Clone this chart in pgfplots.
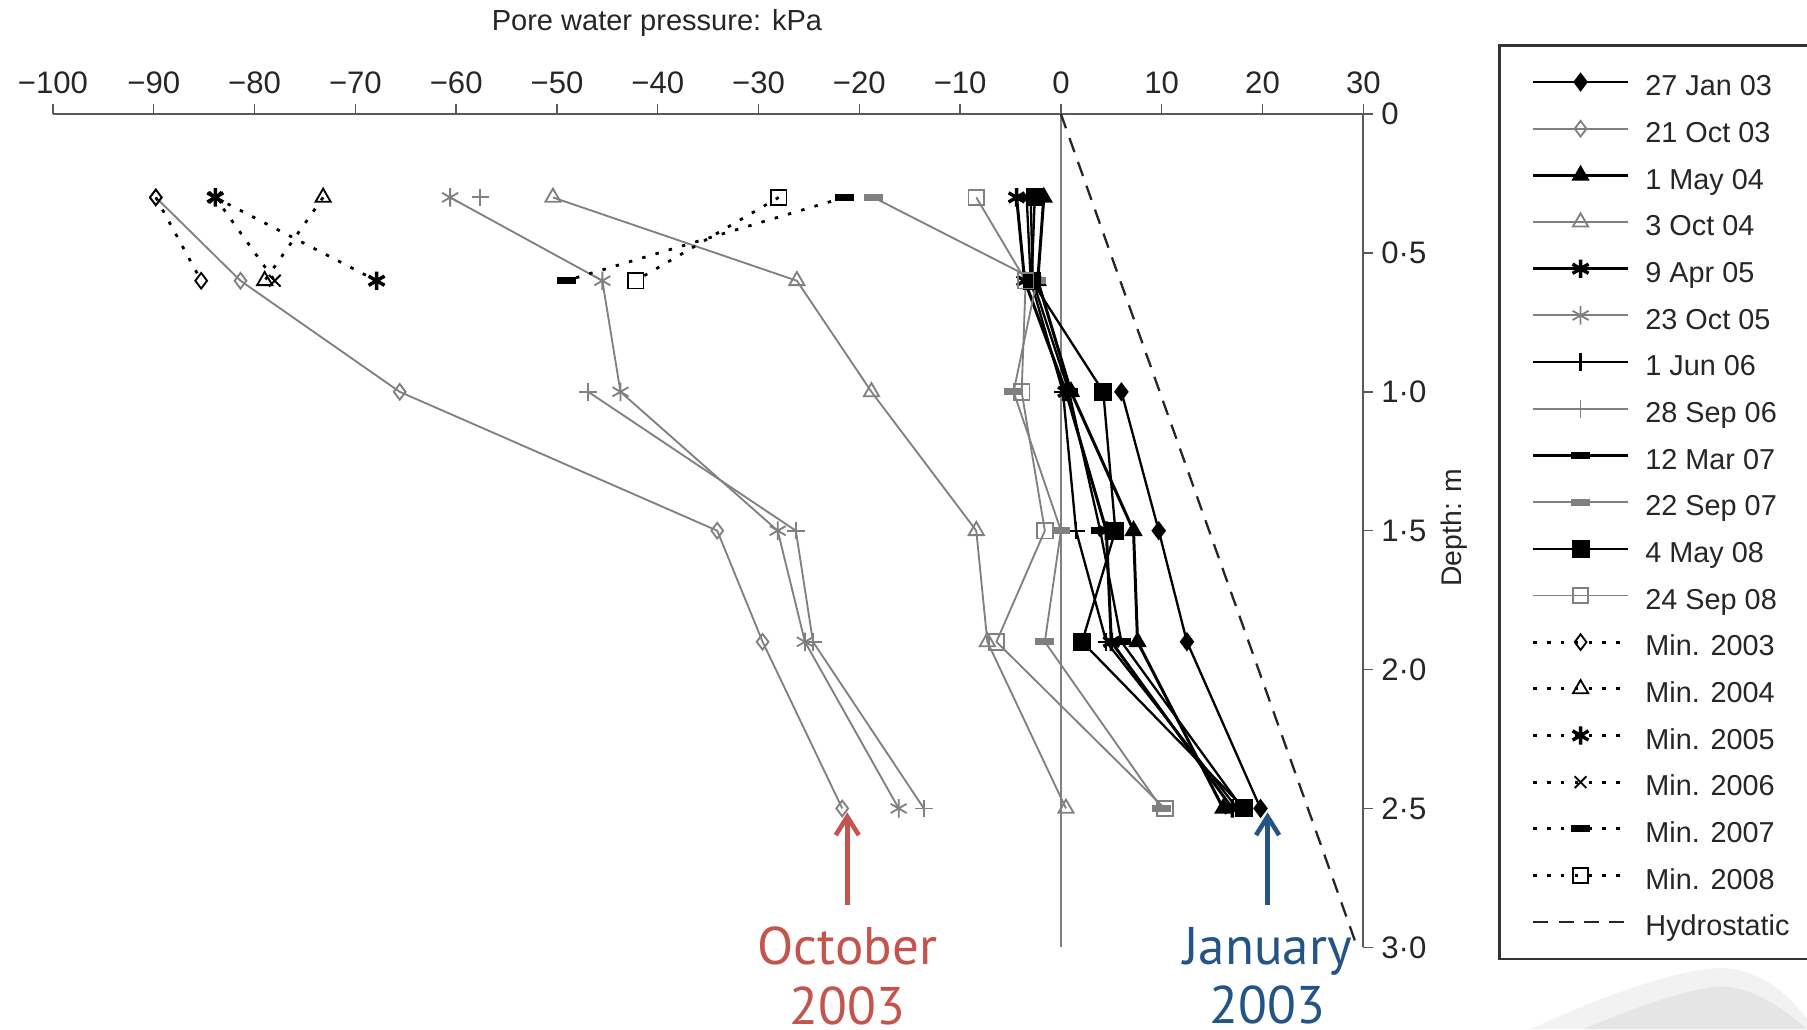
\documentclass[border=0pt]{standalone}
\usepackage{pgfplots}
\pgfplotsset{compat=1.18}
\usepackage{fontspec}
\setmainfont{Liberation Sans}
\newfontfamily\annofont{PT Sans}
\usetikzlibrary{arrows.meta}
\definecolor{grayline}{RGB}{128,128,128}
\definecolor{octred}{RGB}{196,84,78}
\definecolor{janblue}{RGB}{36,84,133}
\pgfplotsset{
  blk/.style={black, solid, line width=1pt, mark size=3.4pt, mark options={solid}},
  gry/.style={grayline, solid, line width=0.8pt, mark size=3.4pt, mark options={solid}},
  mn/.style={black, line width=1.2pt, dash pattern=on 1.5pt off 4.5pt, mark size=3.4pt, mark options={solid, line width=0.8pt}},
}
\begin{document}
\begin{tikzpicture}
% faint background swoosh
\fill[black!5] (664pt,-446.5pt) .. controls (700pt,-430pt) and (730pt,-420pt) .. (748pt,-420pt) .. controls (765pt,-421pt) and (776pt,-432pt) .. (784pt,-442pt) -- (784pt,-446.5pt) -- cycle;
\fill[black!10] (687pt,-446.5pt) .. controls (712pt,-436pt) and (735pt,-428pt) .. (748pt,-428pt) .. controls (762pt,-429pt) and (774pt,-438pt) .. (784pt,-446.5pt) -- cycle;
\begin{axis}[
  at={(23pt,-49.5pt)}, anchor=north west,
  scale only axis, width=568.5pt, height=361.5pt,
  xmin=-100, xmax=30, ymin=0, ymax=3,
  y dir=reverse,
  axis x line=top, axis y line=right,
  axis line style={-, gray!70!black, line width=0.8pt},
  xtick={-100,-90,...,30},
  xticklabels={−100,−90,−80,−70,−60,−50,−40,−30,−20,−10,0,10,20,30},
  ytick={0,0.5,1,1.5,2,2.5,3},
  yticklabels={0,0·5,1·0,1·5,2·0,2·5,3·0},
  tick align=outside, major tick length=4.3pt,
  tick style={gray!70!black, line width=0.6pt},
  ticklabel style={font=\fontsize{13.5}{16}\selectfont, text=black!85},
  xticklabel style={yshift=1pt},
  xlabel={Pore water pressure: kPa}, ylabel={Depth: m},
  xlabel style={at={(axis description cs:0.4609,1.109)}, anchor=center, font=\fontsize{12.6}{15}\selectfont, text=black!85},
  ylabel style={at={(axis description cs:1.0695,0.5035)}, anchor=center, font=\fontsize{12.3}{15}\selectfont, text=black!85},
  clip=false,
  legend cell align=left,
  legend style={at={(axis description cs:1.1029,1.0844)}, anchor=north west,
    draw=black!80, line width=1.2pt, font=\fontsize{12.5}{15}\selectfont,
    inner xsep=14pt, inner ysep=10pt, row sep=8.25pt, column sep=7pt,
    nodes={inner sep=0pt, text height=12pt, text depth=0pt, text=black!85}},
  legend image code/.code={\draw[mark repeat=2,mark phase=2] plot coordinates {(0pt,0pt)(20.5pt,0pt)(41pt,0pt)};},
]
\addplot[grayline, line width=1pt, forget plot] coordinates {(0,0)(0,3)};
% 27 Jan 03
\addplot[blk, mark=diamond*, mark options={fill=black}] coordinates {(6.0,1.0)(9.7,1.5)(12.5,1.9)(19.8,2.5)};
% 21 Oct 03
\addplot[gry, mark=diamond] coordinates {(-89.8,0.3)(-81.4,0.6)(-65.6,1.0)(-34.1,1.5)(-29.6,1.9)(-21.7,2.5)};
% 1 May 04
\addplot[blk, line width=1.3pt, mark=triangle*, mark size=3.8pt, mark options={fill=black, line width=0.8pt}] coordinates {(-1.7,0.3)(-2.3,0.6)(1.0,1.0)(7.2,1.5)(7.6,1.9)(16.1,2.5)};
% 3 Oct 04
\addplot[gry, mark=triangle, mark size=3.8pt] coordinates {(-50.4,0.3)(-26.2,0.6)(-18.8,1.0)(-8.4,1.5)(-7.3,1.9)(0.5,2.5)};
% 9 Apr 05
\addplot[blk, line width=1.3pt, mark=asterisk, mark size=4pt, mark options={line width=1.5pt}] coordinates {(-4.4,0.3)(-3.6,0.6)(0.5,1.0)(4.5,1.5)(5.0,1.9)(17.0,2.5)};
% 23 Oct 05
\addplot[gry, mark=asterisk, mark size=4pt] coordinates {(-60.6,0.3)(-45.5,0.6)(-43.7,1.0)(-28.1,1.5)(-25.4,1.9)(-16.1,2.5)};
% 1 Jun 06
\addplot[blk, mark=+, mark size=3.8pt] coordinates {(-3.4,0.3)(-3.0,0.6)(0.2,1.0)(1.5,1.5)(4.5,1.9)(17.5,2.5)};
% 28 Sep 06
\addplot[gry, mark=+, mark size=3.8pt, unbounded coords=jump] coordinates {(-57.6,0.3)(nan,0.6)(-46.9,1.0)(-26.3,1.5)(-24.6,1.9)(-13.6,2.5)};
% 12 Mar 07
\addplot[blk, mark=-, mark size=4.1pt, mark options={line width=3pt}] coordinates {(-3.0,0.3)(-2.8,0.6)(0.8,1.0)(3.9,1.5)(6.0,1.9)(18.0,2.5)};
% 22 Sep 07
\addplot[gry, mark=-, mark size=4.1pt, mark options={line width=3pt}] coordinates {(-18.6,0.3)(-2.4,0.6)(-4.7,1.0)(0.0,1.5)(-1.6,1.9)(10.0,2.5)};
% 4 May 08
\addplot[blk, mark=square*, mark options={fill=black}] coordinates {(-2.6,0.3)(-2.9,0.6)(4.2,1.0)(5.4,1.5)(2.1,1.9)(18.2,2.5)};
% 24 Sep 08
\addplot[gry, mark=square] coordinates {(-8.4,0.3)(-3.5,0.6)(-3.9,1.0)(-1.6,1.5)(-6.4,1.9)(10.3,2.5)};
% Min 2003
\addplot[mn, mark=diamond] coordinates {(-89.8,0.3)(-85.3,0.6)};
% Min 2004
\addplot[mn, mark=triangle, mark size=3.8pt] coordinates {(-73.2,0.3)(-79.0,0.6)};
% Min 2005
\addplot[mn, mark=asterisk, mark size=4pt, mark options={solid, line width=1.5pt}] coordinates {(-83.9,0.3)(-67.9,0.6)};
% Min 2006
\addplot[mn, mark=x, mark size=3.6pt] coordinates {(-83.9,0.3)(-78.0,0.6)};
% Min 2007
\addplot[mn, mark=-, mark size=4.1pt, mark options={solid, line width=3pt}] coordinates {(-21.5,0.3)(-49.1,0.6)};
% Min 2008
\addplot[mn, mark=square] coordinates {(-28.0,0.3)(-42.2,0.6)};
% Hydrostatic
\addplot[black!85, line width=1pt, dash pattern=on 6.5pt off 4.5pt] coordinates {(0,0)(29.4,3)};
\legend{27 Jan 03,21 Oct 03,1 May 04,3 Oct 04,9 Apr 05,23 Oct 05,1 Jun 06,28 Sep 06,12 Mar 07,22 Sep 07,4 May 08,24 Sep 08,Min. 2003,Min. 2004,Min. 2005,Min. 2006,Min. 2007,Min. 2008,Hydrostatic}
% annotations
\draw[octred, line width=2pt, -{Straight Barb[length=8pt, width=10pt]}] (axis cs:-21.2,2.846) -- (axis cs:-21.2,2.514);
\draw[janblue, line width=2pt, -{Straight Barb[length=8pt, width=10pt]}] (axis cs:20.5,2.846) -- (axis cs:20.5,2.514);
\node[anchor=north, align=center, text=octred, font=\annofont\fontsize{23}{26}\selectfont, inner sep=0pt] at (axis cs:-21.2,2.925) {October\\2003};
\node[anchor=north, align=center, text=janblue, font=\annofont\fontsize{23}{26}\selectfont, inner sep=0pt] at (axis cs:20.5,2.925) {January\\2003};
\end{axis}
\pgfresetboundingbox
\path[use as bounding box] (0pt,0pt) rectangle (784pt,-446.5pt);
\end{tikzpicture}
\end{document}
